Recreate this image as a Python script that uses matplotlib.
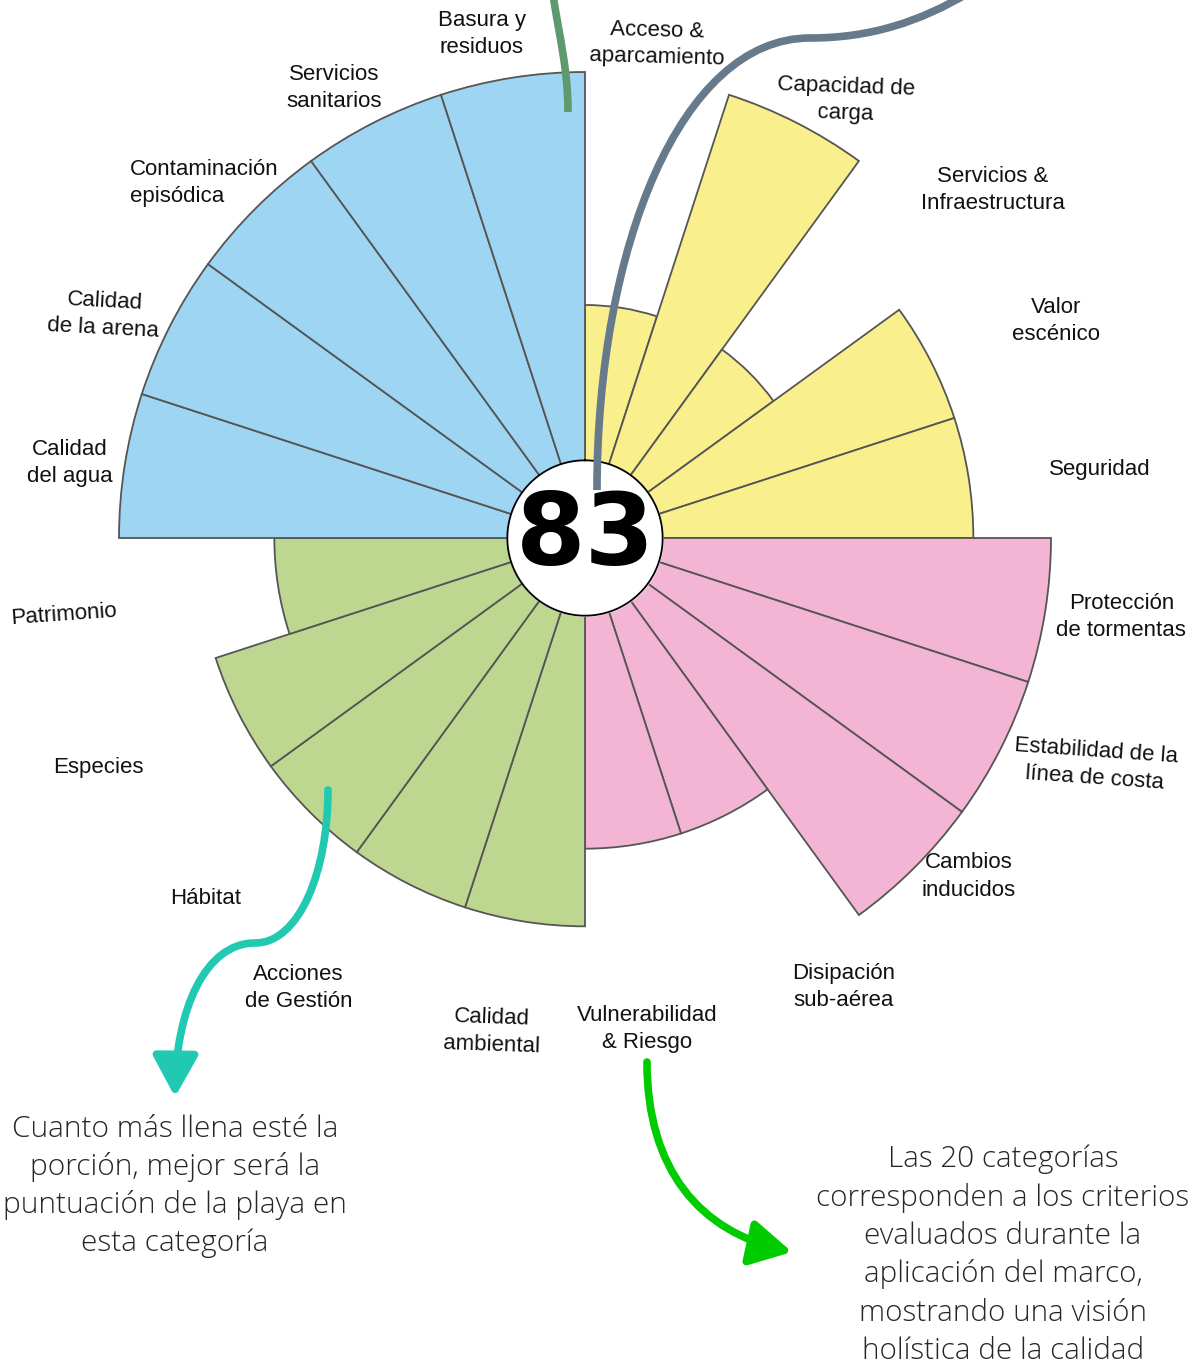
import numpy as np
import matplotlib
matplotlib.use("Agg")
import matplotlib.pyplot as plt
from matplotlib.path import Path
from matplotlib.patches import FancyArrowPatch, PathPatch

# categories clockwise from 12 o'clock
categories = [
	"Acceso &\naparcamiento", "Capacidad de\ncarga", "Servicios &\nInfraestructura", "Valor\nescénico", "Seguridad",
	"Protección\nde tormentas", "Estabilidad de la\nlínea de costa", "Cambios\ninducidos", "Disipación\nsub-aérea", "Vulnerabilidad\n& Riesgo",
	"Calidad\nambiental", "Acciones\nde Gestión", "Hábitat", "Especies", "Patrimonio",
	"Calidad\ndel agua", "Calidad\nde la arena", "Contaminación\nepisódica", "Servicios\nsanitarios", "Basura y\nresiduos",
]
scores = [3, 6, 3, 5, 5,
	6, 6, 6, 4, 4,
	5, 5, 5, 5, 4,
	6, 6, 6, 6, 6]
group_colors = ["#f9ef8c", "#f4b5d4", "#bed790", "#9dd5f3"]
total_score = 83

note_left = "Cuanto más llena esté la\nporción, mejor será la\npuntuación de la playa en\nesta categoría"
note_right = "Las 20 categorías\ncorresponden a los criterios\nevaluados durante la\naplicación del marco,\nmostrando una visión\nholística de la calidad"

# label placement (compass degrees, radius in score units, tilt)
label_theta = [8.3, 30.8, 49.5, 65.3, 82.4, 98.4, 114.0, 131.4, 150.0, 172.8,
	190.7, 212.5, 226.4, 244.8, 261.6, 278.3, 294.9, 313.0, 330.9, 348.4]
label_r = [6.43, 6.56, 6.90, 6.68, 6.69, 6.98, 7.19, 6.59, 6.67, 6.37,
	6.47, 6.87, 6.74, 6.93, 6.79, 6.70, 6.83, 6.71, 6.63, 6.62]
label_rot = [-1.5, -2, 0, 0, 0, 0, -4, 0, 0, 0,
	-2, 0, 0, 0, 4, 0, -3, 0, 0, 0]

W, H = 1202, 1366
fig = plt.figure(figsize=(W / 100, H / 100), dpi=100)

# polar axes centred on (585, 538) px, 6 points = 466 px
cx, cy = 585, 538
px_per_unit = 466 / 6
rmax = 7.0
R = rmax * px_per_unit
ax = fig.add_axes([(cx - R) / W, (H - cy - R) / H, 2 * R / W, 2 * R / H], projection="polar")
ax.set_theta_zero_location("N")
ax.set_theta_direction(-1)
ax.set_ylim(0, rmax)
ax.axis("off")

n = len(categories)
width = 2 * np.pi / n
theta = np.arange(n) * width + width / 2
colors = [group_colors[i // 5] for i in range(n)]
ax.bar(theta, scores, width=width, bottom=0, color=colors, edgecolor="#555555", linewidth=1.3, zorder=2)

# centre disc with the total
tt = np.linspace(0, 2 * np.pi, 400)
ax.fill_between(tt, 0, 1.0, color="white", zorder=3)
ax.plot(tt, np.ones_like(tt), color="black", lw=1.3, zorder=4)
ax.text(0, 0, str(total_score), ha="center", va="center", fontsize=72, fontweight="bold",
	family="DejaVu Sans", zorder=5)

for lab, th, r, rot in zip(categories, label_theta, label_r, label_rot):
	ma = "left" if lab.startswith("Contaminación") else "center"
	ax.text(np.deg2rad(th), r, lab, ha="center", va="center", fontsize=16, family="Liberation Sans",
		color="#111111", linespacing=1.38, rotation=rot, multialignment=ma, rotation_mode="anchor")

# overlay in pixel coords for the callouts
ov = fig.add_axes([0, 0, 1, 1], zorder=10)
ov.set_xlim(0, W)
ov.set_ylim(H, 0)
ov.axis("off")
ov.patch.set_alpha(0)

C4, M = Path.CURVE4, Path.MOVETO

sage = Path([(553, -5), (560, 40), (568, 70), (568, 112)], [M, C4, C4, C4])
ov.add_patch(PathPatch(sage, fill=False, color="#5f9a6e", lw=5.5, capstyle="butt"))

slate = Path([(970, -8), (920, 22), (870, 38), (810, 38),
	(680, 38), (597, 250), (597, 490)], [M, C4, C4, C4, C4, C4, C4])
ov.add_patch(PathPatch(slate, fill=False, color="#677a8c", lw=5.5, capstyle="butt"))

teal = Path([(328, 790), (328, 870), (300, 943), (255, 943),
	(205, 943), (176, 1010), (175, 1097)], [M, C4, C4, C4, C4, C4, C4])
ov.add_patch(FancyArrowPatch(path=teal, arrowstyle="-|>,head_length=1.0,head_width=0.55",
	mutation_scale=25, color="#22c9b2", lw=5.5))

green = Path([(647, 1062), (647, 1170), (700, 1232), (792, 1252)], [M, C4, C4, C4])
ov.add_patch(FancyArrowPatch(path=green, arrowstyle="-|>,head_length=1.0,head_width=0.55",
	mutation_scale=25, color="#00cc00", lw=5.5))

ov.text(175, 1186, note_left, ha="center", va="center", fontsize=21.5, family=["Open Sans", "DejaVu Sans"],
	fontweight="light", color="#262626", linespacing=1.36)
ov.text(1003, 1255, note_right, ha="center", va="center", fontsize=21.3, family=["Open Sans", "DejaVu Sans"],
	fontweight="light", color="#262626", linespacing=1.38)

fig.savefig("out.png", dpi=100)
